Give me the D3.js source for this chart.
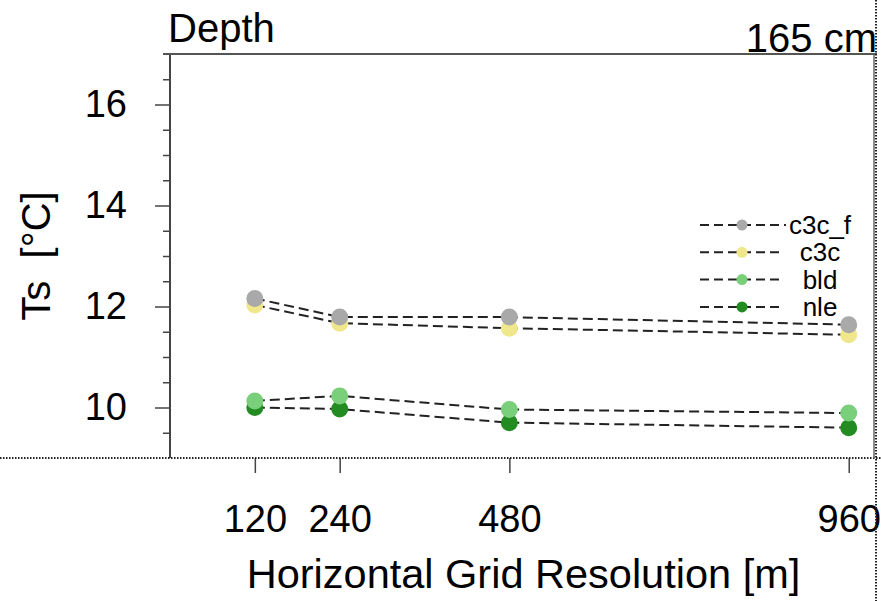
<!DOCTYPE html>
<html>
<head>
<meta charset="utf-8">
<script src="https://cdn.jsdelivr.net/npm/d3@7"></script>
<style>
  body { margin: 0; background: #fff; }
  text { font-family: "Liberation Sans", Arial, Helvetica, sans-serif; fill: #000; }
</style>
</head>
<body>
<div id="viz"></div>
<script>
// grid resolutions (m) and soil temperature at 165 cm depth
const resolutions = [120, 240, 480, 960];
const seriesNames = ["c3c_f", "c3c", "bld", "nle"];
const seriesColors = ["#a9a9a9", "#f0e68c", "#7acf7a", "#228b22"];
const c3c_f = [12.16, 11.79, 11.79, 11.64];
const c3c = [12.03, 11.67, 11.57, 11.44];
const bld = [10.13, 10.23, 9.96, 9.89];
const nle = [10.0, 9.97, 9.70, 9.60];
const yMajorTicks = [10, 12, 14, 16];
const yMinorTicks = [9.5, 10.5, 11, 11.5, 12.5, 13, 13.5, 14.5, 15, 15.5, 16.5];

document.addEventListener("DOMContentLoaded", () => {
    const width = 881;
    const height = 601;
    const left = 170, right = 877, top = 54, bottom = 458;

    const svg = d3.select('#viz').append('svg')
        .attr('width', width)
        .attr('height', height)
        .style('display', 'block');

    const x = d3.scaleLinear().domain([0, 1000]).range([left, right]);
    const y = d3.scaleLinear().domain([9, 17]).range([bottom, top]);

    const series = [
        { name: seriesNames[0], values: c3c_f, color: seriesColors[0] },
        { name: seriesNames[1], values: c3c, color: seriesColors[1] },
        { name: seriesNames[2], values: bld, color: seriesColors[2] },
        { name: seriesNames[3], values: nle, color: seriesColors[3] }
    ];

    // minor y ticks
    svg.append('g')
        .attr('transform', `translate(${left},0)`)
        .call(d3.axisLeft(y).tickValues(yMinorTicks).tickSize(7).tickFormat(''))
        .call(g => g.select('.domain').remove())
        .call(g => g.selectAll('line').attr('stroke', '#444').attr('stroke-width', 1.5));

    // major y ticks
    svg.append('g')
        .attr('transform', `translate(${left},0)`)
        .call(d3.axisLeft(y).tickValues(yMajorTicks).tickSize(15).tickPadding(28))
        .call(g => g.select('.domain').remove())
        .call(g => g.selectAll('line').attr('stroke', '#444').attr('stroke-width', 1.5))
        .call(g => g.selectAll('text').style('font-size', '38px')
            .style('font-family', '"Liberation Sans", Arial, sans-serif').attr('fill', '#000'));

    // x ticks
    svg.append('g')
        .attr('transform', `translate(0,${bottom})`)
        .call(d3.axisBottom(x).tickValues(resolutions).tickSize(15).tickPadding(32))
        .call(g => g.select('.domain').remove())
        .call(g => g.selectAll('line').attr('stroke', '#444').attr('stroke-width', 1.5))
        .call(g => g.selectAll('text').style('font-size', '38px')
            .style('font-family', '"Liberation Sans", Arial, sans-serif').attr('fill', '#000'));

    // frame: solid left and top, dotted bottom and right
    svg.append('line').attr('x1', left).attr('x2', left).attr('y1', top).attr('y2', bottom)
        .attr('stroke', '#444').attr('stroke-width', 2);
    svg.append('line').attr('x1', left - 7).attr('x2', right).attr('y1', top).attr('y2', top)
        .attr('stroke', '#555').attr('stroke-width', 2);
    svg.append('line').attr('x1', 0).attr('x2', width).attr('y1', bottom).attr('y2', bottom)
        .attr('stroke', '#222').attr('stroke-width', 2).attr('stroke-dasharray', '1.5,1.5');
    svg.append('line').attr('x1', right - 1).attr('x2', right - 1).attr('y1', 0).attr('y2', height)
        .attr('stroke', '#222').attr('stroke-width', 2).attr('stroke-dasharray', '1.5,1.5');
    svg.append('line').attr('x1', right - 3).attr('x2', right - 3).attr('y1', top).attr('y2', bottom)
        .attr('stroke', '#666').attr('stroke-width', 1.5);

    // dashed lines
    const line = d3.line()
        .x((d, i) => x(resolutions[i]))
        .y(d => y(d));

    svg.selectAll('path.series')
        .data(series)
        .enter()
        .append('path')
        .attr('class', 'series')
        .attr('d', d => line(d.values))
        .attr('fill', 'none')
        .attr('stroke', '#222')
        .attr('stroke-width', 2)
        .attr('stroke-dasharray', '10,5');

    // markers, drawn bottom series first so c3c_f sits on top
    series.slice().reverse().forEach(s => {
        svg.selectAll(null)
            .data(s.values)
            .enter()
            .append('circle')
            .attr('cx', (d, i) => x(resolutions[i]))
            .attr('cy', d => y(d))
            .attr('r', 8.5)
            .attr('fill', s.color);
    });

    // legend
    const legend = svg.append('g');
    series.forEach((s, i) => {
        const ly = 225 + i * 27.3;
        legend.append('line')
            .attr('x1', 700).attr('x2', i === 0 ? 786 : 782)
            .attr('y1', ly).attr('y2', ly)
            .attr('stroke', '#222').attr('stroke-width', 2)
            .attr('stroke-dasharray', '9,5');
        legend.append('circle')
            .attr('cx', 742).attr('cy', ly).attr('r', 5.5)
            .attr('fill', s.color);
        legend.append('text')
            .attr('x', 820).attr('y', ly + 9)
            .attr('text-anchor', 'middle')
            .style('font-size', '26px')
            .text(s.name);
    });

    // texts
    svg.append('text')
        .attr('x', 168).attr('y', 42)
        .style('font-size', '40px')
        .text('Depth');

    svg.append('text')
        .attr('x', 877).attr('y', 52)
        .attr('text-anchor', 'end')
        .style('font-size', '40px')
        .text('165 cm');

    svg.append('text')
        .attr('transform', 'translate(50,256) rotate(-90)')
        .attr('text-anchor', 'middle')
        .style('font-size', '40px')
        .text('Ts\u00a0 [°C]');

    svg.append('text')
        .attr('x', (left + right) / 2).attr('y', 588)
        .attr('text-anchor', 'middle')
        .style('font-size', '41.5px')
        .text('Horizontal Grid Resolution [m]');
});
</script>
</body>
</html>
